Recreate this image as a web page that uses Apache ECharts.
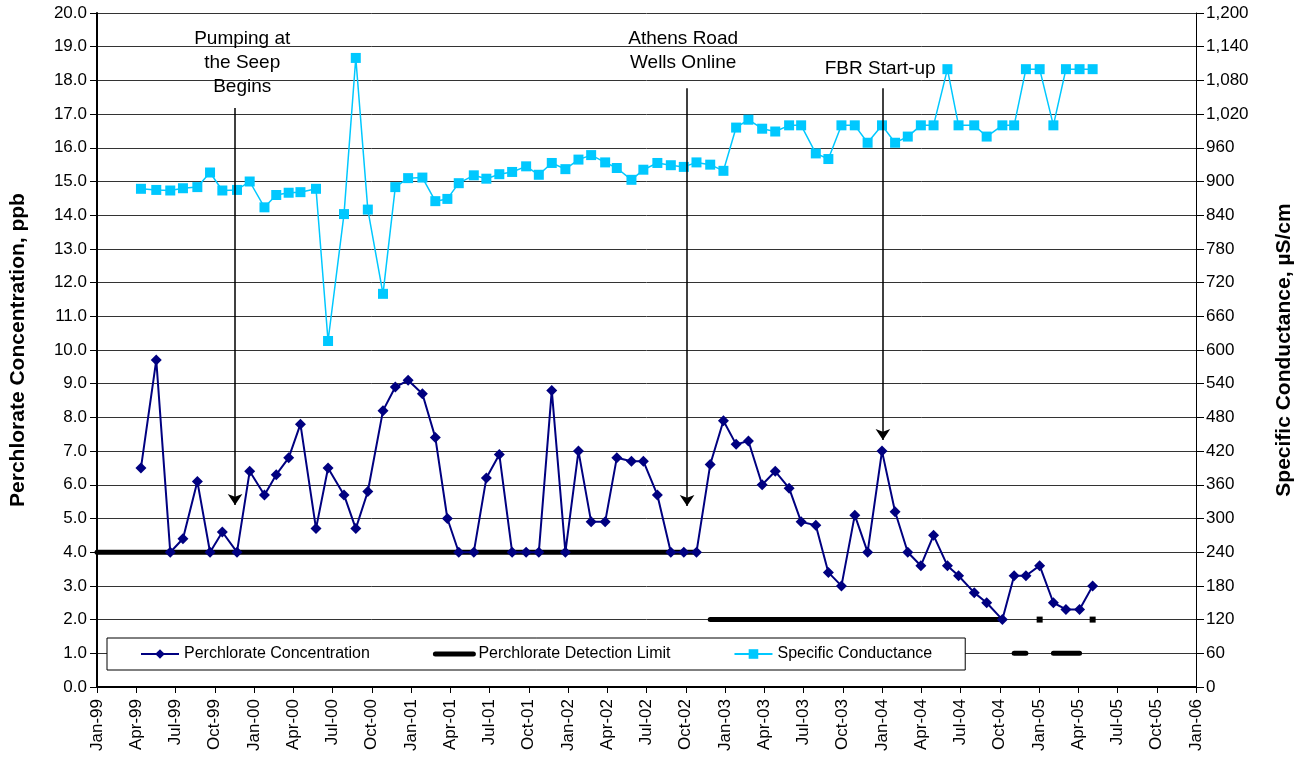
<!DOCTYPE html>
<html>
<head>
<meta charset="utf-8">
<script src="https://cdn.jsdelivr.net/npm/echarts@6/dist/echarts.min.js"></script>
<style>
  html, body { margin: 0; padding: 0; background: #fff; }
  #chart { width: 1306px; height: 761px; }
</style>
</head>
<body>
<div id="chart"></div>
<script>
// sample dates, as months since Jan-99
const sampleMonths = [
  3.36, 4.53, 5.6, 6.57, 7.67, 8.64, 9.58, 10.7, 11.67, 12.8,
  13.7, 14.65, 15.55, 16.74, 17.66, 18.88, 19.78, 20.7, 21.86, 22.8,
  23.78, 24.87, 25.86, 26.78, 27.65, 28.8, 29.76, 30.75, 31.73, 32.8,
  33.77, 34.76, 35.8, 36.8, 37.77, 38.84, 39.73, 40.85, 41.76, 42.83,
  43.86, 44.85, 45.82, 46.87, 47.88, 48.85, 49.79, 50.84, 51.84, 52.9,
  53.82, 54.94, 55.9, 56.9, 57.92, 58.9, 60.0, 61.0, 61.97, 62.97,
  63.94, 65.0, 65.85, 67.05, 68.0, 69.2, 70.1, 71.0, 72.05, 73.1,
  74.06, 75.1, 76.1
];

// perchlorate, ppb
const perchlorate = [
  6.5, 9.7, 4.0, 4.4, 6.1, 4.0, 4.6, 4.0, 6.4, 5.7,
  6.3, 6.8, 7.8, 4.7, 6.5, 5.7, 4.7, 5.8, 8.2, 8.9,
  9.1, 8.7, 7.4, 5.0, 4.0, 4.0, 6.2, 6.9, 4.0, 4.0,
  4.0, 8.8, 4.0, 7.0, 4.9, 4.9, 6.8, 6.7, 6.7, 5.7,
  4.0, 4.0, 4.0, 6.6, 7.9, 7.2, 7.3, 6.0, 6.4, 5.9,
  4.9, 4.8, 3.4, 3.0, 5.1, 4.0, 7.0, 5.2, 4.0, 3.6,
  4.5, 3.6, 3.3, 2.8, 2.5, 2.0, 3.3, 3.3, 3.6, 2.5,
  2.3, 2.3, 3.0
];

// specific conductance, uS/cm
const conductance = [
  887, 885, 884, 888, 890, 916, 884, 885, 900, 854,
  876, 880, 881, 887, 616, 842, 1120, 850, 700, 890,
  906, 907, 865, 869, 897, 911, 905, 913, 917, 927,
  912, 933, 922, 939, 947, 934, 924, 903, 921, 933,
  929, 926, 934, 930, 919, 996, 1010, 994, 989, 1000,
  1000, 950, 940, 1000, 1000, 969, 1000, 969, 980, 1000,
  1000, 1100, 1000, 1000, 980, 1000, 1000, 1100, 1100, 1000,
  1100, 1100, 1100
];

// detection limit starts at Jan-99, then follows the sample dates
const detectionMonths = [0].concat(sampleMonths);
const detectionLimit = [
  4.0,
  4.0, 4.0, 4.0, 4.0, 4.0, 4.0, 4.0, 4.0, 4.0, 4.0,
  4.0, 4.0, 4.0, 4.0, 4.0, 4.0, 4.0, 4.0, 4.0, 4.0,
  4.0, 4.0, 4.0, 4.0, 4.0, 4.0, 4.0, 4.0, 4.0, 4.0,
  4.0, 4.0, 4.0, 4.0, 4.0, 4.0, 4.0, 4.0, 4.0, 4.0,
  4.0, 4.0, 4.0, 2.0, 2.0, 2.0, 2.0, 2.0, 2.0, 2.0,
  2.0, 2.0, 2.0, 2.0, 2.0, 2.0, 2.0, 2.0, 2.0, 2.0,
  2.0, 2.0, 2.0, 2.0, 2.0, 2.0, 1.0, 1.0, 2.0, 1.0,
  1.0, 1.0, 2.0
];

const monthNames = ["Jan", "Feb", "Mar", "Apr", "May", "Jun",
  "Jul", "Aug", "Sep", "Oct", "Nov", "Dec"];

// event notes: arrow from top down to tip, text centred on label point
const events = [
  { month: 10.55, top: 17.18, tip: 5.4, labelX: 11.1, labelY: 18.52, text: "Pumping at\nthe Seep\nBegins" },
  { month: 45.1, top: 17.77, tip: 5.37, labelX: 44.8, labelY: 18.87, text: "Athens Road\nWells Online" },
  { month: 60.07, top: 17.77, tip: 7.33, labelX: 59.86, labelY: 18.36, text: "FBR Start-up" }
];

const font = "'Liberation Sans', Arial, sans-serif";

const perchData = sampleMonths.map((m, i) => [m, perchlorate[i]]);
const condData = sampleMonths.map((m, i) => [m, conductance[i]]);

// break the limit line where the limit changes
const limitData = [];
detectionMonths.forEach((m, i) => {
  const v = detectionLimit[i];
  const prev = detectionLimit[i - 1];
  const next = detectionLimit[i + 1];
  if (i > 0 && prev !== v) limitData.push([m, "-"]);
  if (prev !== v && next !== v) {
    limitData.push({ value: [m, v], symbol: "rect", symbolSize: 6 });
  } else {
    limitData.push([m, v]);
  }
});

const chart = echarts.init(document.getElementById("chart"));
chart.setOption({
  animation: false,
  textStyle: { fontFamily: font },
  grid: { left: 97, right: 110, top: 13, bottom: 74, outerBoundsMode: "none", containLabel: false },
  legend: {
    left: 107,
    top: 638,
    padding: [8, 33, 8, 33],
    itemGap: 63,
    itemWidth: 38,
    itemHeight: 12,
    backgroundColor: "#fff",
    borderColor: "#000",
    borderWidth: 1,
    borderRadius: 0,
    textStyle: { fontSize: 16, color: "#000", fontFamily: font },
    data: [
      "Perchlorate Concentration",
      {
        name: "Perchlorate Detection Limit",
        itemStyle: { opacity: 0 },
        lineStyle: { width: 5, cap: "round", color: "#000" }
      },
      "Specific Conductance"
    ]
  },
  xAxis: {
    type: "value",
    min: 0,
    max: 84,
    interval: 3,
    splitLine: { show: false },
    axisLine: { onZero: false, lineStyle: { color: "#000", width: 2 } },
    axisTick: { length: 6, lineStyle: { color: "#000" } },
    axisLabel: {
      rotate: 90,
      fontSize: 17,
      color: "#000",
      margin: 12,
      formatter: (v) => monthNames[v % 12] + "-" + String((1999 + Math.floor(v / 12)) % 100).padStart(2, "0")
    }
  },
  yAxis: [
    {
      type: "value",
      min: 0,
      max: 20,
      interval: 1,
      name: "Perchlorate Concentration, ppb",
      nameLocation: "middle",
      nameRotate: 90,
      nameGap: 68,
      nameTextStyle: { fontSize: 21, fontWeight: "bold", color: "#000", fontFamily: font },
      axisLine: { show: true, lineStyle: { color: "#000", width: 2 } },
      axisTick: { show: true, length: 7, lineStyle: { color: "#000" } },
      axisLabel: { fontSize: 17, color: "#000", margin: 10, formatter: (v) => v.toFixed(1) },
      splitLine: { lineStyle: { color: "#333", width: 1 } }
    },
    {
      type: "value",
      min: 0,
      max: 1200,
      interval: 60,
      name: "Specific Conductance, µS/cm",
      nameLocation: "middle",
      nameRotate: 90,
      nameGap: 78,
      nameTextStyle: { fontSize: 21, fontWeight: "bold", color: "#000", fontFamily: font },
      axisLine: { show: true, lineStyle: { color: "#000", width: 1 } },
      axisTick: { show: true, length: 8, lineStyle: { color: "#000" } },
      axisLabel: { fontSize: 17, color: "#000", margin: 10, formatter: (v) => v.toLocaleString("en-US") },
      splitLine: { show: false }
    }
  ],
  series: [
    {
      name: "Perchlorate Concentration",
      type: "line",
      yAxisIndex: 0,
      z: 4,
      data: perchData,
      symbol: "diamond",
      symbolSize: 11,
      lineStyle: { color: "#000080", width: 2 },
      itemStyle: { color: "#000080" },
      markLine: {
        silent: true,
        symbol: ["none", "arrow"],
        symbolSize: 11,
        label: { show: false },
        lineStyle: { color: "#000", width: 1.5, type: "solid" },
        data: events.map((e) => [{ coord: [e.month, e.top] }, { coord: [e.month, e.tip] }])
      },
      markPoint: {
        silent: true,
        symbol: "circle",
        symbolSize: 0,
        label: {
          show: true,
          position: "inside",
          color: "#000",
          fontSize: 19,
          lineHeight: 24,
          align: "center",
          fontFamily: font,
          formatter: (p) => p.name
        },
        data: events.map((e) => ({ name: e.text, coord: [e.labelX, e.labelY] }))
      }
    },
    {
      name: "Perchlorate Detection Limit",
      type: "line",
      yAxisIndex: 0,
      z: 3,
      data: limitData,
      symbol: "none",
      connectNulls: false,
      lineStyle: { color: "#000", width: 5, cap: "round" },
      itemStyle: { color: "#000" }
    },
    {
      name: "Specific Conductance",
      type: "line",
      yAxisIndex: 1,
      z: 4,
      data: condData,
      symbol: "rect",
      symbolSize: 10,
      lineStyle: { color: "#00C8FF", width: 1.5 },
      itemStyle: { color: "#00C8FF" }
    }
  ]
});
</script>
</body>
</html>
